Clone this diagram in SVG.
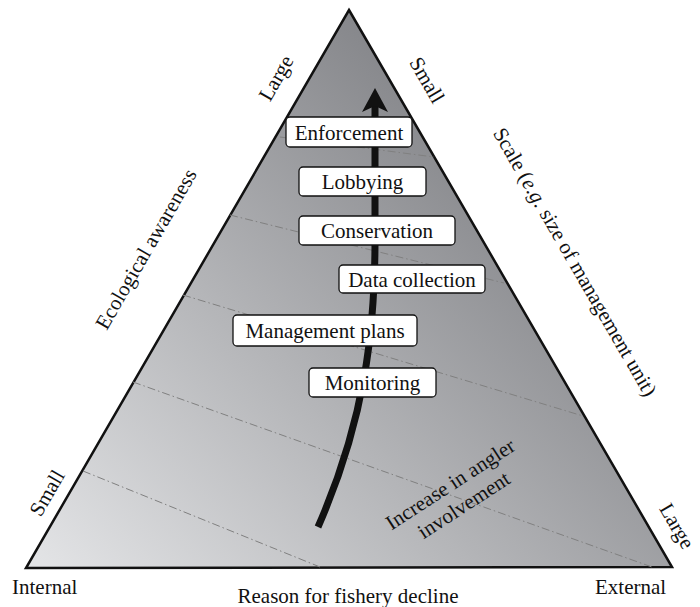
<svg xmlns="http://www.w3.org/2000/svg" width="700" height="607" viewBox="0 0 700 607">
<defs>
<linearGradient id="fill" gradientUnits="userSpaceOnUse" x1="40" y1="560" x2="470" y2="130">
<stop offset="0" stop-color="#e2e3e5"/>
<stop offset="1" stop-color="#86878b"/>
</linearGradient>
<style>
text{font-family:"Liberation Serif","Times New Roman",serif;font-size:21px;fill:#111}
.box rect{fill:#fff;stroke:#111;stroke-width:1.3}
.box text{text-anchor:middle}
.grid line{stroke:#808080;stroke-width:1;stroke-dasharray:8 3 1.5 3}
.lab{text-anchor:middle}
</style>
</defs>
<rect width="700" height="607" fill="#fff"/>
<g id="triangle">
<polygon points="349,10 672,567 26,568" fill="url(#fill)" stroke="#111" stroke-width="2.5" stroke-linejoin="miter"/>
</g>
<g id="gridlines" class="grid">
<line x1="280" y1="137" x2="434" y2="157"/>
<line x1="230" y1="215" x2="504" y2="283"/>
<line x1="183" y1="295" x2="583" y2="416"/>
<line x1="133" y1="382" x2="652" y2="567"/>
<line x1="83" y1="471" x2="320" y2="567"/>
</g>
<g id="connectors">
<path d="M375,106 L375,240 C375,330 365,420 318,527" fill="none" stroke="#111" stroke-width="7"/>
<polygon points="375,88 388,112 375,106 362,112" fill="#111"/>
</g>
<g id="n-enforcement" class="box"><rect x="286" y="117" width="126" height="30" rx="4"/><text x="349" y="140">Enforcement</text></g>
<g id="n-lobbying" class="box"><rect x="299" y="167" width="127" height="29" rx="4"/><text x="362.5" y="189">Lobbying</text></g>
<g id="n-conservation" class="box"><rect x="299" y="216" width="156" height="29" rx="4"/><text x="377" y="238">Conservation</text></g>
<g id="n-data" class="box"><rect x="339" y="265" width="146" height="28" rx="4"/><text x="412" y="287">Data collection</text></g>
<g id="n-management" class="box"><rect x="233" y="315" width="184" height="31" rx="4"/><text x="325" y="338">Management plans</text></g>
<g id="n-monitoring" class="box"><rect x="309" y="368" width="127" height="29" rx="4"/><text x="372.5" y="390">Monitoring</text></g>
<g id="labels">
<text class="lab" transform="translate(276,78) rotate(-60)" y="7">Large</text>
<text class="lab" transform="translate(146,249) rotate(-60)" y="7">Ecological awareness</text>
<text class="lab" transform="translate(47,493) rotate(-60)" y="7">Small</text>
<text class="lab" transform="translate(427,80) rotate(60)" y="7">Small</text>
<text class="lab" transform="translate(575,262) rotate(60)" y="7">Scale (<tspan font-style="italic">e.g.</tspan> size of management unit)</text>
<text class="lab" transform="translate(677,526) rotate(60)" y="7">Large</text>
<text x="12" y="594">Internal</text>
<text x="595" y="594">External</text>
<text class="lab" x="348" y="603">Reason for fishery decline</text>
<g transform="translate(454,490) rotate(-33)">
<text class="lab" x="0" y="0">Increase in angler</text>
<text class="lab" x="0" y="25">involvement</text>
</g>
</g>
</svg>
